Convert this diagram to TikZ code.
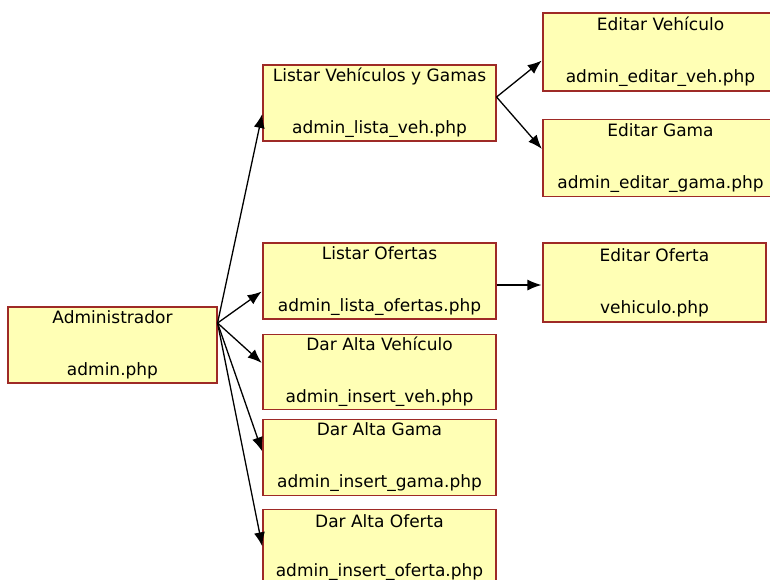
\documentclass[tikz,border=0pt]{standalone}
\usepackage{fontspec}
\setmainfont{DejaVu Sans}
\usetikzlibrary{arrows.meta,positioning}
\definecolor{boxfill}{RGB}{255,255,181}
\definecolor{boxline}{RGB}{158,42,38}

\begin{document}
\begin{tikzpicture}[x=1pt, y=-1pt, ->, >={Latex[length=14pt,width=11pt]}, shorten >=1pt, line width=1.3pt, node distance=14pt]
    \tikzstyle{page}=[rectangle, draw=boxline, fill=boxfill, line width=1.1pt, inner sep=0pt, minimum height=76pt, minimum width=233pt, align=center, font=\fontsize{17}{19}\selectfont]

    \useasboundingbox (0,0) rectangle (770,579);

    \node[page, minimum width=209pt] (admin) at (112.5,345) {Administrador\\[33pt]admin.php};
    \node[page] (lveh) at (379.5,103) {Listar Vehículos y Gamas\\[33pt]admin\_lista\_veh.php};
    \node[page] (lofer) at (379.5,281) {Listar Ofertas\\[33pt]admin\_lista\_ofertas.php};
    \node[page, minimum height=75pt] (dveh) [below=of lofer] {Dar Alta Vehículo\\[33pt]admin\_insert\_veh.php};
    \node[page] (dgama) [below=9pt of dveh] {Dar Alta Gama\\[33pt]admin\_insert\_gama.php};
    \node[page] (dofer) [below=13pt of dgama] {Dar Alta Oferta\\[30pt]admin\_insert\_oferta.php};
    \node[page, minimum width=235pt, minimum height=78pt] (eveh) at (660.5,52) {Editar Vehículo\\[33pt]admin\_editar\_veh.php};
    \node[page, minimum width=235pt, minimum height=77pt] (egama) [below=27pt of eveh] {Editar Gama\\[33pt]admin\_editar\_gama.php};
    \node[page, minimum width=223pt, minimum height=79pt] (eofer) at (654.5,282.5) {Editar Oferta\\[33pt]vehiculo.php};

    \coordinate (fan) at ([yshift=22pt]admin.east);
    \coordinate (split) at ([yshift=6pt]lveh.east);

    \path
    (fan)   edge ([yshift=-10pt]lveh.west)
    (fan)   edge ([yshift=-10pt]lofer.west)
    (fan)   edge ([yshift=8pt]dveh.west)
    (fan)   edge ([yshift=5pt]dgama.west)
    (fan)   edge ([yshift=0pt]dofer.west)
    (split) edge ([yshift=-8pt]eveh.west)
    (split) edge ([yshift=8pt]egama.west)
    ([yshift=-4pt]lofer.east) edge ([yshift=-4pt]lofer.east -| eofer.west);

\end{tikzpicture}
\end{document}
